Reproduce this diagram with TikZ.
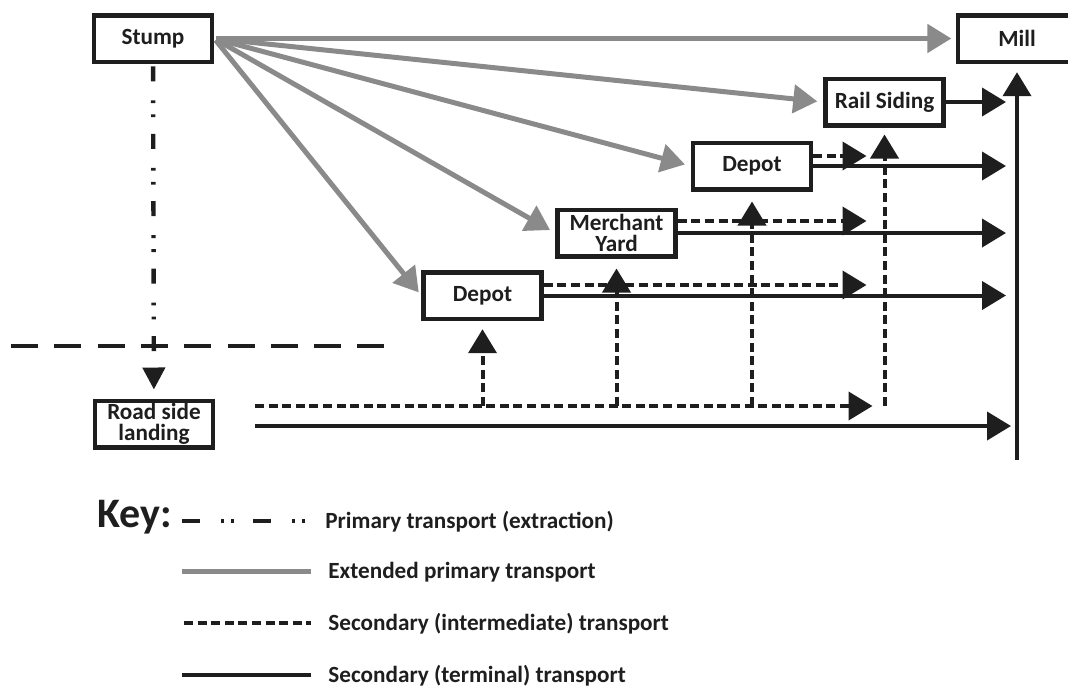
\documentclass[tikz,border=0pt]{standalone}
\usepackage{fontspec}
\setmainfont{Carlito}
\usepackage{tikz}
\usetikzlibrary{arrows.meta}

\definecolor{ink}{HTML}{1E1E1E}
\definecolor{extgray}{HTML}{8A8A8A}

\tikzset{
  stage/.style={draw=ink, line width=2.25pt, fill=white, minimum width=59pt, minimum height=23.25pt, inner sep=1pt, align=center, text=ink, font=\bfseries\fontsize{11.6}{10.6}\selectfont},
  flowtip/.style={-{Triangle[length=12pt,width=14pt]}},
  extended/.style={extgray, line width=2.5pt, flowtip},
  terminal/.style={ink, line width=2pt},
  inter/.style={ink, line width=2pt, dash pattern=on 4.5pt off 2.3pt},
  primary/.style={ink, line width=2.2pt, dash pattern=on 7.5pt off 9.5pt on 1.4pt off 5.6pt on 1.4pt off 8.3pt},
  boundary/.style={ink, line width=2pt, dash pattern=on 13.5pt off 8.15pt},
  keytext/.style={anchor=base west, inner sep=0pt, text=ink, font=\bfseries\fontsize{11.6}{13}\selectfont},
  keyhead/.style={anchor=base west, inner sep=0pt, text=ink, font=\bfseries\fontsize{21}{23}\selectfont}
}

\begin{document}
\begin{tikzpicture}[x=0.5pt,y=-0.5pt]
            \useasboundingbox (0,0) rectangle (1068,686);
            % stages of the supply chain
            \node[stage] (stump) at (153,38.5) {Stump};
            \node[stage] (mill) at (1017,38.5) {Mill};
            \node[stage] (rail) at (884.5,102) {Rail Siding};
            \node[stage] (depotB) at (752,166) {Depot};
            \node[stage] (merchant) at (616.5,233) {Merchant\\Yard};
            \node[stage] (depotA) at (482.5,295.5) {Depot};
            \node[stage] (landing) at (154,424) {Road side\\landing};
            \coordinate (millfoot) at (1017,460);
            \coordinate (ldash) at (255,406);
            \coordinate (lsolid) at (255,426);
            % extraction
            \draw[primary, -{Triangle[length=11pt,width=11pt]}, shorten <=1.2pt, shorten >=4.5pt] (stump) -- (landing);
            \draw[boundary] (11,346) -- (385,346);
            % extended primary
            \draw[extended, shorten <=1.1pt, shorten >=2.2pt] (stump.east) -- (mill.west);
            \draw[extended, shorten <=1.1pt, shorten >=3pt] (stump.east) -- (rail.west);
            \draw[extended, shorten <=1.1pt, shorten >=3pt] (stump.east) -- (depotB.west);
            \draw[extended, shorten <=1.1pt, shorten >=3pt] (stump.east) -- (merchant.west);
            \draw[extended, shorten <=1.1pt, shorten >=2pt] (stump.east) -- (depotA.west);
            % terminal
            \draw[terminal, flowtip, shorten >=5.5pt] (rail.east) -- (rail.east -| millfoot);
            \draw[terminal, flowtip, shorten >=5.5pt] (depotB.east) -- (depotB.east -| millfoot);
            \draw[terminal, flowtip, shorten >=5.5pt] (merchant.east) -- (merchant.east -| millfoot);
            \draw[terminal, flowtip, shorten >=5.5pt] (depotA.east) -- (depotA.east -| millfoot);
            \draw[terminal, flowtip, shorten >=3pt] (lsolid) -- (lsolid -| millfoot);
            \draw[terminal, flowtip, shorten >=4.1pt] (millfoot) -- (mill.south);
            % intermediate
            \draw[inter, flowtip, shorten >=9pt] ([yshift=5pt]depotB.east) coordinate (b1) -- (b1 -| rail.south);
            \draw[inter, flowtip, shorten >=9pt] ([yshift=6pt]merchant.east) coordinate (m1) -- (m1 -| rail.south);
            \draw[inter, flowtip, shorten >=9pt] ([yshift=5.25pt]depotA.east) coordinate (a1) -- (a1 -| rail.south);
            \draw[inter, flowtip, shorten >=6pt] (ldash) -- (ldash -| rail.south);
            \draw[inter, flowtip, shorten >=4.1pt] (ldash -| depotA.south) -- (depotA.south);
            \draw[inter, flowtip, shorten >=5pt] (ldash -| merchant.south) -- (merchant.south);
            \draw[inter, flowtip, shorten >=5pt] (ldash -| depotB.south) -- (depotB.south);
            \draw[inter, flowtip, shorten >=3.5pt] (ldash -| rail.south) -- (rail.south);
            % key
            \node[keyhead] (key) at (97,527) {Key:};
            \node[keytext] (kprim) at (325,528) {Primary transport (extraction)};
            \node[keytext] (kext) at (328,578) {Extended primary transport};
            \node[keytext] (kinter) at (328,630) {Secondary (intermediate) transport};
            \node[keytext] (kterm) at (328,682) {Secondary (terminal) transport};
            \draw[primary, dash pattern=on 9pt off 10.5pt on 1.5pt off 3.5pt on 1.5pt off 9.5pt] ([xshift=-71.5pt,yshift=3.5pt]kprim.base west) -- ([xshift=-8.5pt,yshift=3.5pt]kprim.base west);
            \draw[extgray, line width=2.5pt] ([xshift=-73pt,yshift=3.5pt]kext.base west) -- ([xshift=-8.5pt,yshift=3.5pt]kext.base west);
            \draw[inter] ([xshift=-72pt,yshift=3.5pt]kinter.base west) -- ([xshift=-8.5pt,yshift=3.5pt]kinter.base west);
            \draw[terminal] ([xshift=-73pt,yshift=3.5pt]kterm.base west) -- ([xshift=-8.5pt,yshift=3.5pt]kterm.base west);
\end{tikzpicture}
\end{document}
